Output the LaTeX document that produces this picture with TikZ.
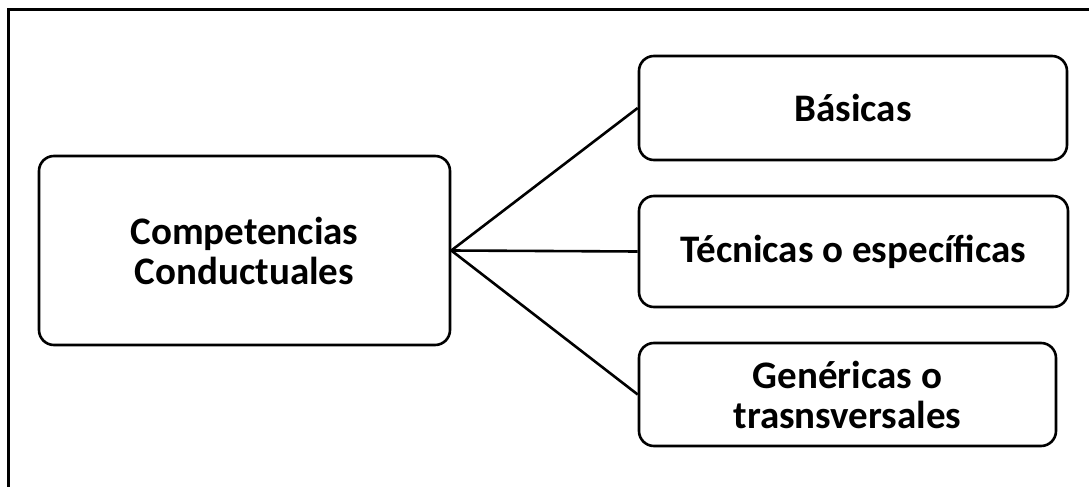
\documentclass[tikz,border=0pt]{standalone}
\usepackage{fontspec}
\setmainfont{Carlito}
\usepackage{tikz}
\tikzset{compbox/.style={draw, line width=1.3pt, rounded corners=7.5pt, align=center, font=\fontsize{19.5}{20}\selectfont\bfseries}}

\begin{document}
\begin{tikzpicture}[x=.5pt,y=-.5pt]
\useasboundingbox (0,0) rectangle (1089,487);
%frame
\draw[line width=1.5pt] (8,487) -- (8,9) -- (1089,9);
%boxes
\node[compbox, minimum width=205.5pt, minimum height=94.5pt] (cc) at (244.5,250.5) {Competencias\\Conductuales};
\node[compbox, minimum width=214pt, minimum height=52pt] (bas) at (853,108) {Básicas};
\node[compbox, minimum width=214.5pt, minimum height=55.5pt] (tec) at (853.5,251.5) {Técnicas o específicas};
\node[compbox, minimum width=208.5pt, minimum height=51.5pt] (gen) at (847.5,394.5) {Genéricas o\\trasnsversales};
\draw[line width=1.3pt] (cc.east) -- (bas.west);
\draw[line width=1.3pt] (cc.east) -- (tec.west);
\draw[line width=1.3pt] (cc.east) -- (gen.west);
\end{tikzpicture}
\end{document}
